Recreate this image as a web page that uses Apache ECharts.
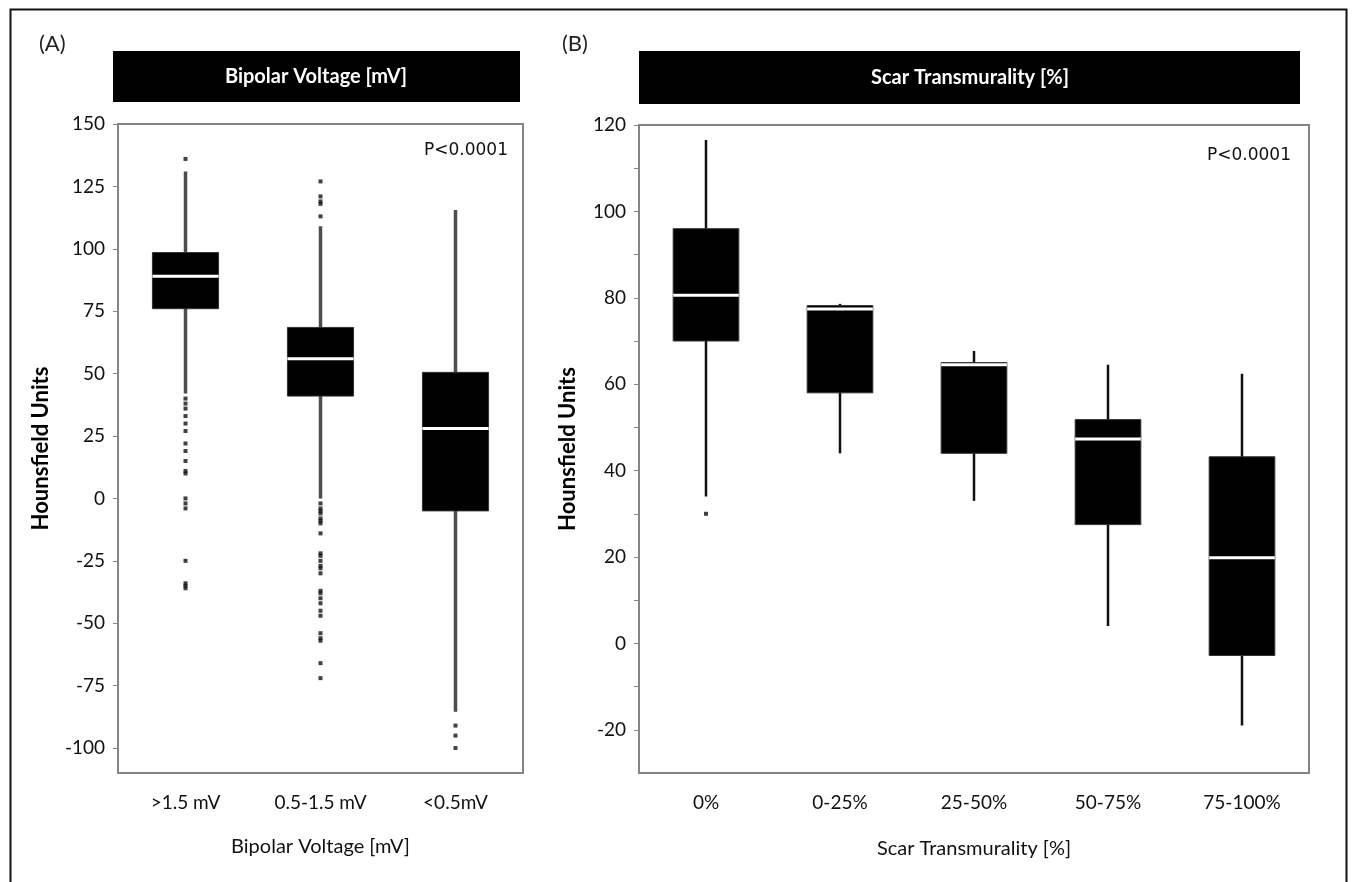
<!DOCTYPE html>
<html>
<head>
<meta charset="utf-8">
<script src="https://cdn.jsdelivr.net/npm/echarts@6/dist/echarts.min.js"></script>
<style>
html,body{margin:0;padding:0;background:#fff;}
#chart{width:1352px;height:882px;}
</style>
</head>
<body>
<div id="chart"></div>
<script>
// ---------- Data ----------
const voltageCats = ['>1.5 mV', '0.5-1.5 mV', '<0.5mV'];
// [low whisker, Q1, median, Q3, high whisker]
const voltageBoxes = [
  [42, 76, 89, 98.5, 131],
  [0, 41, 56, 68.5, 109],
  [-85.5, -5, 28, 50.5, 115.5]
];
const voltageOutliers = [
  [136, 40, 38, 36, 33, 30, 27, 22, 19, 15, 11, 10, 0, -2, -4, -25, -34, -35, -36],
  [127, 121, 119, 118, 113, -2, -4, -5, -6, -8, -9, -10, -14, -22, -23, -25, -27, -28, -30, -37, -38, -40, -42, -45, -47, -54, -56, -57, -66, -72],
  [-91, -95, -100]
];
const voltageTicks = [-100, -75, -50, -25, 0, 25, 50, 75, 100, 125, 150];

const scarCats = ['0%', '0-25%', '25-50%', '50-75%', '75-100%'];
const scarBoxes = [
  [34, 70, 80.6, 96, 116.5],
  [44, 58, 77.4, 78.2, 78.6],
  [33, 44, 64.5, 65, 67.7],
  [4, 27.5, 47.3, 51.8, 64.5],
  [-19, -2.8, 19.8, 43.2, 62.4]
];
const scarOutliers = [[30], [], [], [], []];
const scarLabels = [-20, 0, 20, 40, 60, 80, 100, 120];
const scarTicks = [-20, -10, 0, 10, 20, 30, 40, 50, 60, 70, 80, 90, 100, 110, 120];

// ---------- Helpers ----------
function boxData(boxes) {
  return boxes.map((b, i) => [i].concat(b));
}
function outlierData(cats, outs) {
  const res = [];
  outs.forEach((arr, i) => arr.forEach(v => res.push([cats[i], v])));
  return res;
}
function makeRender(whiskerColor, whiskerWidth) {
  return function (params, api) {
    const x = api.value(0);
    const low = api.coord([x, api.value(1)]);
    const q1 = api.coord([x, api.value(2)]);
    const med = api.coord([x, api.value(3)]);
    const q3 = api.coord([x, api.value(4)]);
    const high = api.coord([x, api.value(5)]);
    const bw = api.size([1, 0])[0] * 0.49;
    return {
      type: 'group',
      children: [
        { type: 'line', shape: { x1: low[0], y1: low[1], x2: high[0], y2: high[1] },
          style: { stroke: whiskerColor, lineWidth: whiskerWidth } },
        { type: 'rect', shape: { x: q3[0] - bw / 2, y: q3[1], width: bw, height: q1[1] - q3[1] },
          style: { fill: '#000', stroke: '#333', lineWidth: 1 } },
        { type: 'line', shape: { x1: med[0] - bw / 2, y1: med[1], x2: med[0] + bw / 2, y2: med[1] },
          style: { stroke: '#fff', lineWidth: 3 } }
      ]
    };
  };
}

const FONT = 'Lato, "Open Sans", sans-serif';
const axisCol = '#858585';

const chart = echarts.init(document.getElementById('chart'), null, { renderer: 'canvas' });

const option = {
  backgroundColor: '#fff',
  animation: false,
  textStyle: { fontFamily: FONT },
  grid: [
    { left: 118, top: 124, width: 405, height: 649, show: true, borderColor: axisCol, borderWidth: 2, backgroundColor: '#fff' },
    { left: 639, top: 125, width: 670, height: 648, show: true, borderColor: axisCol, borderWidth: 2, backgroundColor: '#fff' }
  ],
  xAxis: [
    {
      type: 'category', gridIndex: 0, data: voltageCats, boundaryGap: true,
      axisLine: { onZero: false, lineStyle: { color: axisCol, width: 2 } },
      axisTick: { show: false },
      axisLabel: { color: '#111', fontSize: 19, fontFamily: FONT, margin: 20, interval: 0 },
      name: 'Bipolar Voltage [mV]', nameLocation: 'middle', nameGap: 64,
      nameTextStyle: { color: '#111', fontSize: 20, fontFamily: FONT }
    },
    {
      type: 'category', gridIndex: 1, data: scarCats, boundaryGap: true,
      axisLine: { onZero: false, lineStyle: { color: axisCol, width: 2 } },
      axisTick: { show: false },
      axisLabel: { color: '#111', fontSize: 19, fontFamily: FONT, margin: 20, interval: 0 },
      name: 'Scar Transmurality [%]', nameLocation: 'middle', nameGap: 66,
      nameTextStyle: { color: '#111', fontSize: 20, fontFamily: FONT }
    }
  ],
  yAxis: [
    {
      type: 'value', gridIndex: 0, min: -110, max: 150,
      splitLine: { show: false },
      axisLine: { show: true, onZero: false, lineStyle: { color: axisCol, width: 2 } },
      axisTick: { show: true, length: 5, customValues: voltageTicks, lineStyle: { color: axisCol } },
      axisLabel: { customValues: voltageTicks, color: '#111', fontSize: 19, fontFamily: FONT, margin: 13 },
      name: 'Hounsfield Units', nameLocation: 'middle', nameRotate: 90, nameGap: 66,
      nameTextStyle: { color: '#000', fontSize: 22, fontWeight: 'bold', fontFamily: FONT }
    },
    {
      type: 'value', gridIndex: 1, min: -30, max: 120,
      splitLine: { show: false },
      axisLine: { show: true, onZero: false, lineStyle: { color: axisCol, width: 2 } },
      axisTick: { show: true, length: 5, customValues: scarTicks, lineStyle: { color: axisCol } },
      axisLabel: { customValues: scarLabels, color: '#111', fontSize: 19, fontFamily: FONT, margin: 13 },
      name: 'Hounsfield Units', nameLocation: 'middle', nameRotate: 90, nameGap: 60,
      nameTextStyle: { color: '#000', fontSize: 22, fontWeight: 'bold', fontFamily: FONT }
    }
  ],
  series: [
    {
      type: 'custom', xAxisIndex: 0, yAxisIndex: 0,
      renderItem: makeRender('#4d4d4d', 3.5),
      encode: { x: 0, y: [1, 2, 3, 4, 5] },
      data: boxData(voltageBoxes), z: 3
    },
    {
      type: 'scatter', xAxisIndex: 0, yAxisIndex: 0,
      symbol: 'rect', symbolSize: 4,
      itemStyle: { color: '#111' },
      data: outlierData(voltageCats, voltageOutliers), z: 4
    },
    {
      type: 'custom', xAxisIndex: 1, yAxisIndex: 1,
      renderItem: makeRender('#111', 2.5),
      encode: { x: 0, y: [1, 2, 3, 4, 5] },
      data: boxData(scarBoxes), z: 3
    },
    {
      type: 'scatter', xAxisIndex: 1, yAxisIndex: 1,
      symbol: 'rect', symbolSize: 4,
      itemStyle: { color: '#111' },
      data: outlierData(scarCats, scarOutliers), z: 4
    }
  ],
  graphic: [
    { type: 'rect', left: 8, top: 7, shape: { width: 1336, height: 900 },
      style: { fill: 'none', stroke: '#111', lineWidth: 2 }, z: 0, silent: true },
    { type: 'text', left: 39, top: 33, style: { text: '(A)', fontSize: 22, fontFamily: FONT, fill: '#222' } },
    { type: 'text', left: 562, top: 33, style: { text: '(B)', fontSize: 22, fontFamily: FONT, fill: '#222' } },
    { type: 'rect', left: 113, top: 51, shape: { width: 407, height: 51 }, style: { fill: '#000' } },
    { type: 'text', x: 316, y: 77, style: { text: 'Bipolar Voltage [mV]', fontSize: 20, fontWeight: 'bold', fontFamily: FONT, fill: '#fff', align: 'center', verticalAlign: 'middle' } },
    { type: 'rect', left: 639, top: 51, shape: { width: 661, height: 53 }, style: { fill: '#000' } },
    { type: 'text', x: 970, y: 78, style: { text: 'Scar Transmurality [%]', fontSize: 20, fontWeight: 'bold', fontFamily: FONT, fill: '#fff', align: 'center', verticalAlign: 'middle' } },
    { type: 'text', x: 508, y: 151, style: { text: 'P<0.0001', fontSize: 17, fontFamily: '"DejaVu Sans", sans-serif', fill: '#111', align: 'right', verticalAlign: 'middle' } },
    { type: 'text', x: 1291, y: 156, style: { text: 'P<0.0001', fontSize: 17, fontFamily: '"DejaVu Sans", sans-serif', fill: '#111', align: 'right', verticalAlign: 'middle' } }
  ]
};
chart.setOption(option);
</script>
</body>
</html>
